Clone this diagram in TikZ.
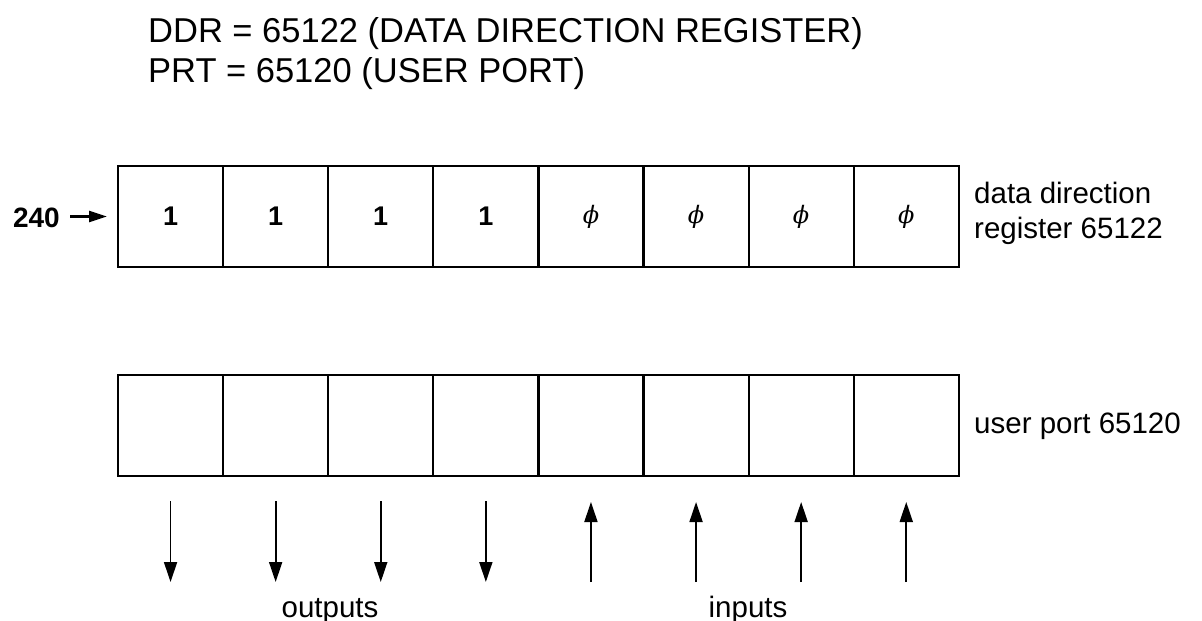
\documentclass[tikz,border=0pt]{standalone}
\usepackage{fontspec}
\setmainfont{Liberation Sans}
\newfontfamily\phifont{DejaVu Serif}
\usetikzlibrary{arrows.meta}
\newcommand{\phisym}{{\phifont\itshape ϕ}}
\begin{document}
\begin{tikzpicture}[x=1pt,y=-1pt,
 cell/.style={draw,line width=2.2pt,minimum width=105.1pt,minimum height=101pt,inner sep=0pt,outer sep=0pt,font=\fontsize{27}{30}\selectfont\bfseries},
 phicell/.style={cell,font=\fontsize{24}{30}\selectfont},
 lbl/.style={font=\fontsize{29.5}{34}\selectfont,inner sep=0pt},
 head/.style={font=\fontsize{34.5}{40}\selectfont,inner sep=0pt,anchor=base west},
 arr/.style={line width=1.8pt,-{Triangle[length=20pt,width=13pt]}}]
\useasboundingbox (0,0) rectangle (1202,621);
\node[head] (h1) at (148,42) {DDR = 65122 (DATA DIRECTION REGISTER)};
\node[head] (h2) at (148,82) {PRT = 65120 (USER PORT)};
\foreach \i in {1,...,4}
  \node[cell] (d\i) at ({118+105.1*(\i-0.5)},216.5) {1};
\foreach \i in {5,...,8}
  \node[phicell] (d\i) at ({118+105.1*(\i-0.5)},216.5) {\phisym};
\foreach \i in {1,...,8}
  \node[cell] (p\i) at ({118+105.1*(\i-0.5)},425.5) {};
\node[lbl,font=\fontsize{28}{34}\selectfont\bfseries,anchor=base east] (n240) at (60,227) {240};
\draw[line width=2.4pt,-{Triangle[length=18pt,width=11pt]}] ([xshift=10pt]n240.east |- d1.west) -- ([xshift=-11pt]d1.west);
\node[lbl,anchor=base west] (rd1) at (974,203) {data direction};
\node[lbl,anchor=base west] (rd2) at (974,238) {register 65122};
\node[lbl,anchor=base west] (rp) at (974,433) {user port 65120};
\foreach \i in {1,...,4}
  \draw[arr] ([yshift=-25pt]p\i.south) -- ([yshift=-106pt]p\i.south);
\foreach \i in {5,...,8}
  \draw[arr] ([yshift=-106pt]p\i.south) -- ([yshift=-26pt]p\i.south);
\node[lbl,anchor=base] (out) at (330,617) {outputs};
\node[lbl,anchor=base] (inp) at (748,617) {inputs};
\end{tikzpicture}
\end{document}
